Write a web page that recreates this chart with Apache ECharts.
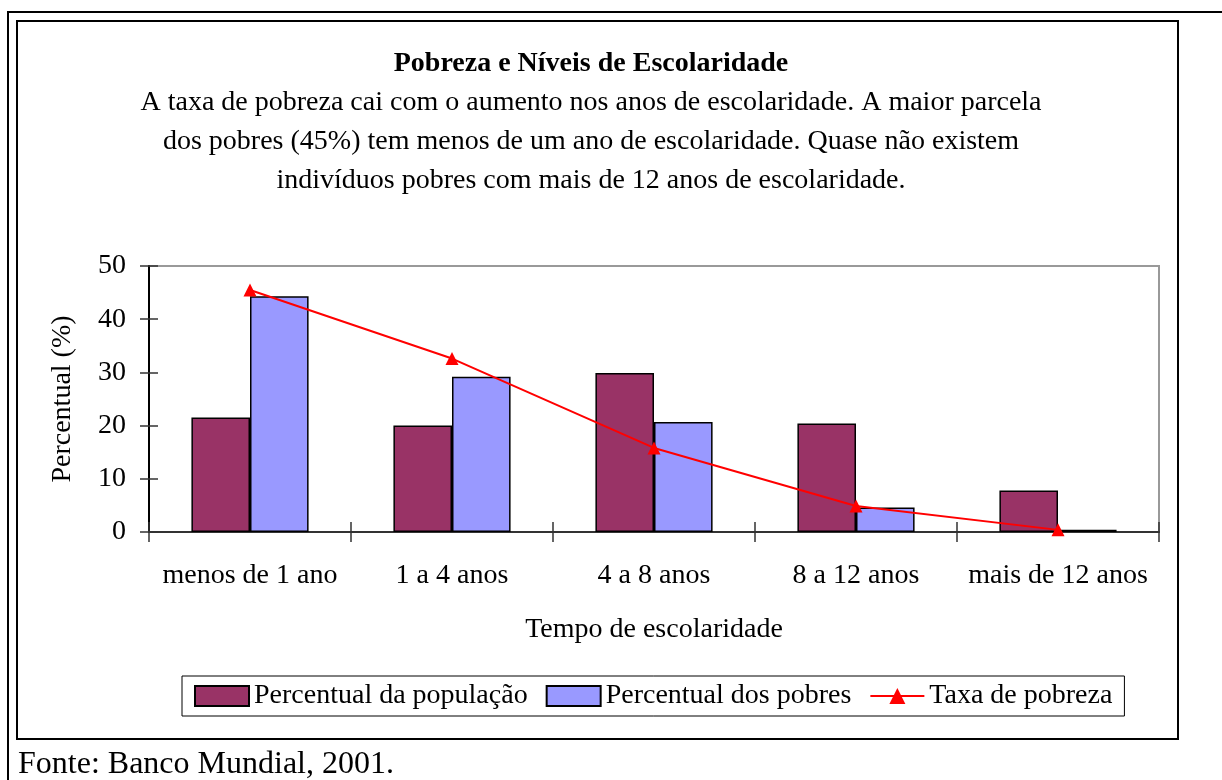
<!DOCTYPE html>
<html>
<head>
<meta charset="utf-8">
<script src="https://cdn.jsdelivr.net/npm/echarts@6/dist/echarts.min.js"></script>
<style>
  html, body { margin: 0; padding: 0; background: #fff; }
  #chart { width: 1222px; height: 780px; }
</style>
</head>
<body>
<div id="chart"></div>
<script>
const categories = ['menos de 1 ano', '1 a 4 anos', '4 a 8 anos', '8 a 12 anos', 'mais de 12 anos']
const popShare = [21.5, 20.0, 29.9, 20.4, 7.8]
const poorShare = [44.3, 29.2, 20.7, 4.6, 0.4]
const povertyRate = [45.5, 32.6, 15.8, 4.9, 0.4]
const yTicks = { min: 0, max: 50, interval: 10 }

const font = 'Liberation Serif'
const chart = echarts.init(document.getElementById('chart'))

const option = {
  backgroundColor: '#fff',
  animation: false,
  textStyle: { fontFamily: font, color: '#000' },
  grid: {
    left: 149,
    top: 266,
    right: 63,
    bottom: 248,
    containLabel: false,
    outerBoundsMode: 'none',
    show: true,
    borderColor: '#999',
    borderWidth: 2
  },
  legend: {
    left: 182,
    top: 676,
    padding: [6, 12],
    itemGap: 18,
    itemWidth: 54,
    itemHeight: 20,
    borderColor: '#000',
    borderWidth: 1,
    backgroundColor: '#fff',
    textStyle: { fontFamily: font, fontSize: 28, color: '#000' },
    data: [
      { name: 'Percentual da população', icon: 'rect' },
      { name: 'Percentual dos pobres', icon: 'rect' },
      { name: 'Taxa de pobreza' }
    ]
  },
  xAxis: [
    {
      type: 'category',
      position: 'bottom',
      data: categories,
      name: 'Tempo de escolaridade',
      nameLocation: 'middle',
      nameGap: 84,
      nameTextStyle: { fontFamily: font, fontSize: 28, color: '#000' },
      axisLine: { show: true, lineStyle: { color: '#333', width: 2 } },
      axisTick: { show: true, length: 10, lineStyle: { color: '#333', width: 1.5 } },
      axisLabel: { interval: 0, hideOverlap: false, margin: 30, fontFamily: font, fontSize: 28, color: '#000' }
    },
    {
      type: 'category',
      position: 'bottom',
      data: categories,
      axisLine: { show: false },
      axisTick: { show: true, inside: true, length: 10, lineStyle: { color: '#333', width: 1.5 } },
      axisLabel: { show: false }
    }
  ],
  yAxis: [
    {
      type: 'value',
      position: 'left',
      min: yTicks.min,
      max: yTicks.max,
      interval: yTicks.interval,
      name: 'Percentual (%)',
      nameLocation: 'middle',
      nameGap: 72,
      nameTextStyle: { fontFamily: font, fontSize: 28, color: '#000' },
      splitLine: { show: false },
      axisLine: { show: true, lineStyle: { color: '#000', width: 2 } },
      axisTick: { show: true, length: 9, lineStyle: { color: '#333', width: 1.5 } },
      axisLabel: { margin: 23, fontFamily: font, fontSize: 28, color: '#000' }
    },
    {
      type: 'value',
      position: 'left',
      min: yTicks.min,
      max: yTicks.max,
      interval: yTicks.interval,
      splitLine: { show: false },
      axisLine: { show: false },
      axisTick: { show: true, inside: true, length: 9, lineStyle: { color: '#333', width: 1.5 } },
      axisLabel: { show: false }
    }
  ],
  series: [
    {
      name: 'Percentual da população',
      type: 'bar',
      barGap: '0%',
      barCategoryGap: '42%',
      itemStyle: { color: '#993366', borderColor: '#000', borderWidth: 1.5 },
      data: popShare
    },
    {
      name: 'Percentual dos pobres',
      type: 'bar',
      barGap: '0%',
      barCategoryGap: '42%',
      itemStyle: { color: '#9999FF', borderColor: '#000', borderWidth: 1.5 },
      data: poorShare
    },
    {
      name: 'Taxa de pobreza',
      type: 'line',
      symbol: 'triangle',
      symbolSize: 13,
      lineStyle: { color: '#FF0000', width: 2 },
      itemStyle: { color: '#FF0000' },
      data: povertyRate
    }
  ],
  graphic: [
    {
      type: 'polyline',
      silent: true,
      shape: { points: [[8, 780], [8, 12], [1222, 12]] },
      style: { stroke: '#000', lineWidth: 2, fill: null }
    },
    {
      type: 'rect',
      silent: true,
      z: -1,
      shape: { x: 17, y: 21, width: 1161, height: 718 },
      style: { stroke: '#000', lineWidth: 2, fill: null }
    },
    {
      type: 'text',
      x: 591,
      y: 64,
      style: {
        text: 'Pobreza e Níveis de Escolaridade',
        font: 'bold 28px "Liberation Serif"',
        fill: '#000',
        textAlign: 'center',
        textVerticalAlign: 'middle'
      }
    },
    {
      type: 'text',
      x: 591,
      y: 83.5,
      style: {
        text: 'A taxa de pobreza cai com o aumento nos anos de escolaridade. A maior parcela\ndos pobres (45%) tem menos de um ano de escolaridade. Quase não existem\nindivíduos pobres com mais de 12 anos de escolaridade.',
        font: '28px "Liberation Serif"',
        lineHeight: 39,
        fill: '#000',
        textAlign: 'center',
        textVerticalAlign: 'top'
      }
    },
    {
      type: 'text',
      x: 18,
      y: 765,
      style: {
        text: 'Fonte: Banco Mundial, 2001.',
        font: '32px "Liberation Serif"',
        fill: '#000',
        textAlign: 'left',
        textVerticalAlign: 'middle'
      }
    }
  ]
}

chart.setOption(option)
</script>
</body>
</html>
